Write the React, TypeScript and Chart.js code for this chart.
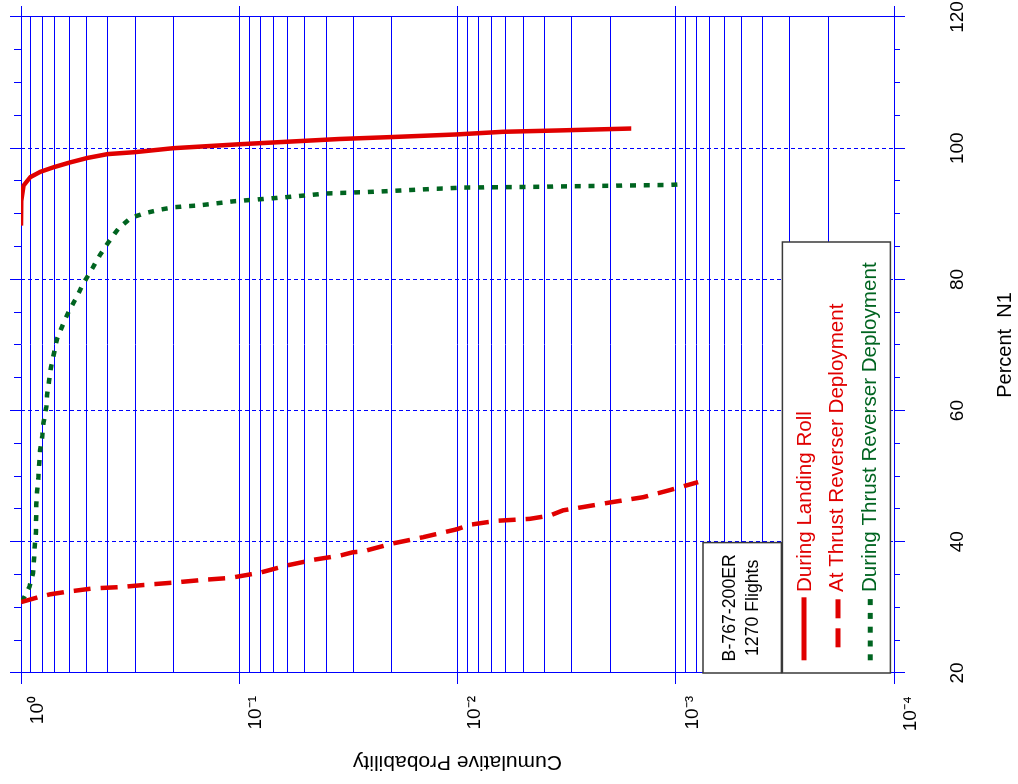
import React, { useEffect, useRef } from "react";
import { Chart, registerables } from "chart.js";

Chart.register(...registerables);

// ---------- data ----------
const seriesLabels = [
  "During Landing Roll",
  "At Thrust Reverser Deployment",
  "During Thrust Reverser Deployment",
];

const landingRollN1 = [88.2, 92.0, 94.3, 95.6, 96.4, 97.1, 97.8, 98.5, 99.1, 99.4, 100.0, 100.6, 101.4, 101.7, 102.1, 102.5, 102.7, 103.0];
const landingRollProb = [1.0, 0.998, 0.973, 0.906, 0.816, 0.709, 0.601, 0.499, 0.401, 0.3, 0.201, 0.1, 0.035, 0.02, 0.0101, 0.0062, 0.0035, 0.0016];

const atDeployN1 = [30.8, 31.5, 32.0, 32.35, 32.9, 33.1, 33.5, 33.8, 34.2, 34.5, 35.3, 36.4, 37.3, 37.9, 38.4, 38.55, 39.7, 40.7, 41.9, 42.6, 43.2, 43.5, 44.0, 44.8, 45.3, 46.0, 46.8, 47.9, 49.1];
const atDeployProb = [1.0, 0.845, 0.734, 0.627, 0.467, 0.351, 0.256, 0.197, 0.146, 0.11, 0.0802, 0.0605, 0.0449, 0.0345, 0.0302, 0.027, 0.0201, 0.0144, 0.0101, 0.00877, 0.00662, 0.00466, 0.00377, 0.00328, 0.00266, 0.002, 0.00141, 0.00106, 0.00079];

const duringDeployN1 = [30.9, 33.1, 35.2, 37.3, 39.3, 41.5, 45.7, 47.6, 49.7, 51.9, 53.9, 56.1, 58.2, 60.5, 62.3, 64.5, 66.6, 68.9, 70.9, 73.0, 75.1, 77.2, 79.4, 81.3, 83.7, 85.7, 87.8, 89.4, 90.1, 90.6, 91.0, 91.3, 91.9, 92.5, 93.1, 93.4, 93.7, 94.0, 94.1, 94.2, 94.4, 94.5];
const duringDeployProb = [0.99, 0.916, 0.881, 0.872, 0.866, 0.854, 0.851, 0.845, 0.833, 0.825, 0.818, 0.799, 0.788, 0.766, 0.76, 0.744, 0.729, 0.704, 0.684, 0.645, 0.605, 0.558, 0.518, 0.478, 0.435, 0.397, 0.357, 0.313, 0.27, 0.233, 0.2, 0.151, 0.1066, 0.0628, 0.0397, 0.0226, 0.01485, 0.0094, 0.00466, 0.00296, 0.00108, 0.000918];

const n1TickValues = [20, 25, 30, 35, 40, 45, 50, 55, 60, 65, 70, 75, 80, 85, 90, 95, 100, 105, 110, 115, 120];
const n1LabelValues = [20, 40, 60, 80, 100, 120];

const probDecades = [1, 0.1, 0.01, 0.001, 0.0001];
const probDecadeLabels = ["10\u2070", "10\u207B\u00B9", "10\u207B\u00B2", "10\u207B\u00B3", "10\u207B\u2074"];
const probGridValues = [
  1, 0.9, 0.8, 0.7, 0.6, 0.5, 0.4, 0.3, 0.2,
  0.1, 0.09, 0.08, 0.07, 0.06, 0.05, 0.04, 0.03, 0.02,
  0.01, 0.009, 0.008, 0.007, 0.006, 0.005, 0.004, 0.003, 0.002,
  0.001, 0.0009, 0.0008, 0.0007, 0.0006, 0.0005, 0.0004, 0.0003, 0.0002,
  0.0001,
];

const infoLines = ["B-767-200ER", "1270 Flights"];

// ---------- styles ----------
const BLUE = "#0000ff";
const RED = "#e00000";
const GREEN = "#006420";
const BOXLINE = "#3a3a3a";
const FONT = "'Liberation Sans', Arial, Helvetica, sans-serif";

const toPoints = (xs: number[], ys: number[]) => xs.map((x, i) => ({ x, y: ys[i] }));
const align = (p: number) => Math.round(p - 0.5) + 0.5;

const outerTicks = {
  id: "outerTicks",
  afterDraw(chart: any) {
    const { ctx, chartArea: a, scales } = chart;
    const xs = scales.x;
    const ys = scales.y;
    ctx.save();
    ctx.strokeStyle = BLUE;
    ctx.lineWidth = 1;
    ctx.beginPath();
    for (const v of n1TickValues) {
      const px = align(xs.getPixelForValue(v));
      const major = n1LabelValues.includes(v);
      ctx.moveTo(px, a.top);
      ctx.lineTo(px, a.top - (major ? 11 : 7));
      ctx.moveTo(px, a.bottom);
      ctx.lineTo(px, a.bottom + (major ? 11 : 6));
    }
    for (const v of probDecades) {
      const py = align(ys.getPixelForValue(v));
      ctx.moveTo(a.left, py);
      ctx.lineTo(a.left - 11, py);
      ctx.moveTo(a.right, py);
      ctx.lineTo(a.right + 11, py);
    }
    ctx.stroke();
    ctx.restore();
  },
};

const boxes = {
  id: "boxes",
  afterDatasetsDraw(chart: any) {
    const { ctx, chartArea: a } = chart;
    ctx.save();
    // info box
    const ix0 = a.left, ix1 = a.left + 130.4;
    const iy0 = a.bottom - 191, iy1 = a.bottom - 112.6;
    ctx.fillStyle = "#fff";
    ctx.fillRect(ix0, iy0, ix1 - ix0, iy1 - iy0);
    ctx.strokeStyle = BOXLINE;
    ctx.lineWidth = 1.5;
    ctx.strokeRect(ix0, iy0, ix1 - ix0, iy1 - iy0);
    ctx.fillStyle = "#000";
    ctx.font = `17.7px ${FONT}`;
    ctx.textAlign = "center";
    ctx.textBaseline = "alphabetic";
    ctx.fillText(infoLines[0], (ix0 + ix1) / 2, a.bottom - 158.6);
    ctx.fillText(infoLines[1], (ix0 + ix1) / 2, a.bottom - 136.3);

    // legend box
    const lx0 = a.left, lx1 = a.left + 431;
    const ly0 = a.bottom - 111.6, ly1 = a.bottom - 3.6;
    ctx.fillStyle = "#fff";
    ctx.fillRect(lx0, ly0, lx1 - lx0, ly1 - ly0);
    ctx.strokeStyle = BOXLINE;
    ctx.lineWidth = 1.5;
    ctx.strokeRect(lx0, ly0, lx1 - lx0, ly1 - ly0);

    const sampleY = [a.bottom - 90.1, a.bottom - 56, a.bottom - 23.8];
    const textY = [a.bottom - 82.9, a.bottom - 51.3, a.bottom - 17.9];
    const sampleStart = [a.left + 12.7, a.left + 25.7, a.left + 12.7];
    const sampleEnd = [a.left + 75.7, a.left + 73.7, a.left + 75.7];
    const textColors = [RED, RED, GREEN];
    chart.data.datasets.forEach((ds: any, i: number) => {
      ctx.save();
      ctx.strokeStyle = ds.borderColor;
      ctx.lineWidth = 5;
      ctx.lineCap = "butt";
      ctx.setLineDash(i === 1 ? [19, 10] : ds.borderDash || []);
      ctx.beginPath();
      ctx.moveTo(sampleStart[i], sampleY[i]);
      ctx.lineTo(sampleEnd[i], sampleY[i]);
      ctx.stroke();
      ctx.restore();
      ctx.fillStyle = textColors[i];
      ctx.font = `20.6px ${FONT}`;
      ctx.textAlign = "left";
      ctx.textBaseline = "alphabetic";
      ctx.fillText(ds.label, a.left + 81, textY[i]);
    });
    ctx.restore();
  },
};

export default function App() {
  const ref = useRef<HTMLCanvasElement>(null);

  useEffect(() => {
    const canvas = ref.current;
    if (!canvas) return;
    const chart = new Chart(canvas, {
      type: "line",
      data: {
        datasets: [
          {
            label: seriesLabels[0],
            data: toPoints(landingRollN1, landingRollProb),
            borderColor: RED,
            backgroundColor: RED,
            borderWidth: 4.5,
            pointRadius: 0,
            tension: 0,
            fill: false,
          },
          {
            label: seriesLabels[1],
            data: toPoints(atDeployN1, atDeployProb),
            borderColor: RED,
            backgroundColor: RED,
            borderWidth: 4.5,
            borderDash: [17, 10],
            pointRadius: 0,
            tension: 0,
            fill: false,
          },
          {
            label: seriesLabels[2],
            data: toPoints(duringDeployN1, duringDeployProb),
            borderColor: GREEN,
            backgroundColor: GREEN,
            borderWidth: 4.5,
            borderDash: [6, 7.8],
            pointRadius: 0,
            tension: 0,
            fill: false,
          },
        ],
      },
      options: {
        animation: false,
        responsive: false,
        devicePixelRatio: 1,
        layout: { padding: { top: 21, right: 17, left: 0, bottom: 0 } },
        plugins: {
          legend: { display: false },
          tooltip: { enabled: false },
        },
        scales: {
          x: {
            type: "linear",
            position: "bottom",
            min: 20,
            max: 120,
            afterBuildTicks: (s: any) => {
              s.ticks = n1TickValues.map((v) => ({ value: v }));
            },
            afterFit: (s: any) => {
              s.height = 124;
              s.paddingLeft = 0;
              s.paddingRight = 0;
            },
            ticks: {
              autoSkip: false,
              maxRotation: 0,
              minRotation: 0,
              padding: 52.6,
              color: "#000",
              font: { family: FONT, size: 19 },
              callback: (v: any) => (n1LabelValues.includes(Number(v)) ? String(v) : ""),
            },
            grid: {
              drawTicks: false,
              lineWidth: 1,
              color: (c: any) =>
                c.tick && n1LabelValues.includes(c.tick.value) ? BLUE : "rgba(0,0,0,0)",
            },
            border: {
              display: true,
              color: BLUE,
              width: 1,
              dash: (c: any) =>
                c.tick && c.tick.value > 20 && c.tick.value < 120 ? [4, 3] : [],
            },
            title: {
              display: true,
              text: "Percent  N1",
              color: "#000",
              font: { family: FONT, size: 20 },
              padding: { top: 0, bottom: 1 },
            },
          },
          y: {
            type: "logarithmic",
            position: "left",
            min: 0.0001,
            max: 1,
            afterBuildTicks: (s: any) => {
              s.ticks = probGridValues.map((v) => ({ value: v }));
            },
            afterFit: (s: any) => {
              s.width = 111;
              s.paddingTop = 0;
              s.paddingBottom = 0;
            },
            ticks: {
              autoSkip: false,
              padding: 23,
              labelOffset: 17,
              color: "#000",
              font: { family: FONT, size: 19 },
              callback: (v: any) => {
                const i = probDecades.indexOf(Number(v));
                return i >= 0 ? probDecadeLabels[i] : "";
              },
            },
            grid: {
              drawTicks: false,
              lineWidth: 1,
              color: BLUE,
            },
            border: { display: true, color: BLUE, width: 1 },
            title: {
              display: true,
              text: "Cumulative Probability",
              color: "#000",
              font: { family: FONT, size: 21 },
              padding: { top: 9.4, bottom: 0 },
            },
          },
        },
      } as any,
      plugins: [outerTicks, boxes],
    });
    return () => chart.destroy();
  }, []);

  return (
    <div
      style={{
        position: "fixed",
        left: 0,
        top: 0,
        width: 784,
        height: 1018,
        transformOrigin: "0 0",
        transform: "translate(0px, 784px) rotate(-90deg)",
        background: "#fff",
      }}
    >
      <canvas ref={ref} width={784} height={1018} style={{ display: "block", width: 784, height: 1018 }} />
    </div>
  );
}
